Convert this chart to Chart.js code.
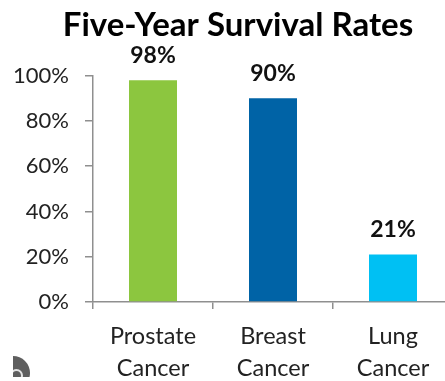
<!DOCTYPE html>
<html>
<head>
<meta charset="utf-8">
<style>
html, body { margin: 0; padding: 0; background: #fff; width: 445px; height: 381px; overflow: hidden; }
#wrap { position: relative; width: 445px; height: 381px; overflow: hidden; }
canvas { position: absolute; left: 0; top: 0; }
#badge { position: absolute; left: 13px; top: 356px; width: 17px; height: 21px; overflow: hidden; }
#badge .disc { position: absolute; left: -17px; top: 0; width: 34px; height: 34px; border-radius: 50%; background: #5f5f5f; }
#badge .ring { position: absolute; left: -3px; top: 13px; width: 9px; height: 9px; border: 2px solid #e4e4e4; border-radius: 50%; }
</style>
<script src="https://cdn.jsdelivr.net/npm/chart.js@4"></script>
</head>
<body>
<div id="wrap">
<canvas id="chart" width="477" height="381"></canvas>
<div id="badge"><div class="disc"></div><div class="ring"></div></div>
</div>
<script>
const chartTitle = 'Five-Year Survival Rates';
const categories = [['Prostate', 'Cancer'], ['Breast', 'Cancer'], ['Lung', 'Cancer']];
const survivalRates = [98, 90, 21];
const barColors = ['#8cc63f', '#0063a6', '#00c0f3'];
const FONT = 'Lato, Carlito, "Open Sans", sans-serif';
const AXIS_GREY = '#8f8f8f';

// Prints each bar's percentage just above its top edge.
const valueLabels = {
  id: 'valueLabels',
  afterDatasetsDraw(chart) {
    const { ctx } = chart;
    const bars = chart.getDatasetMeta(0).data;
    ctx.save();
    ctx.font = 'bold 23px ' + FONT;
    ctx.fillStyle = '#111';
    ctx.textAlign = 'center';
    ctx.textBaseline = 'alphabetic';
    bars.forEach((bar, i) => ctx.fillText(survivalRates[i] + '%', bar.x, bar.y - 17.5));
    ctx.restore();
  }
};

// Lets the y tick labels use the left margin instead of being clipped at the scale box.
const widenYLabelArea = {
  id: 'widenYLabelArea',
  afterLayout(chart) { chart.scales.y.left = 0; }
};

new Chart(document.getElementById('chart'), {
  type: 'bar',
  data: {
    labels: categories,
    datasets: [{ data: survivalRates, backgroundColor: barColors, barPercentage: 0.8, categoryPercentage: 0.5 }]
  },
  plugins: [valueLabels, widenYLabelArea],
  options: {
    responsive: false,
    animation: false,
    layout: { padding: { left: 23, right: 24, top: 0, bottom: 0 } },
    plugins: {
      legend: { display: false },
      tooltip: { enabled: false },
      title: {
        display: true,
        text: chartTitle,
        color: '#000',
        font: { family: FONT, size: 33, weight: 'bold' },
        padding: { top: 6, bottom: 30 }
      }
    },
    scales: {
      x: {
        afterFit(s) { s.height = 79; },
        border: { color: AXIS_GREY, width: 1.5 },
        grid: { drawOnChartArea: false, color: AXIS_GREY, tickLength: 7, lineWidth: 1.5 },
        ticks: { color: '#222', font: { family: FONT, size: 23.5, lineHeight: 1.36 }, padding: 11, maxRotation: 0, autoSkip: false }
      },
      y: {
        min: 0,
        max: 100,
        afterFit(s) { s.width = 70; },
        border: { color: AXIS_GREY, width: 1.5 },
        grid: { drawOnChartArea: false, color: AXIS_GREY, tickLength: 8, lineWidth: 1.5 },
        ticks: { stepSize: 20, color: '#222', font: { family: FONT, size: 22 }, padding: 16, callback: v => v + '%' }
      }
    }
  }
});
</script>
</body>
</html>
